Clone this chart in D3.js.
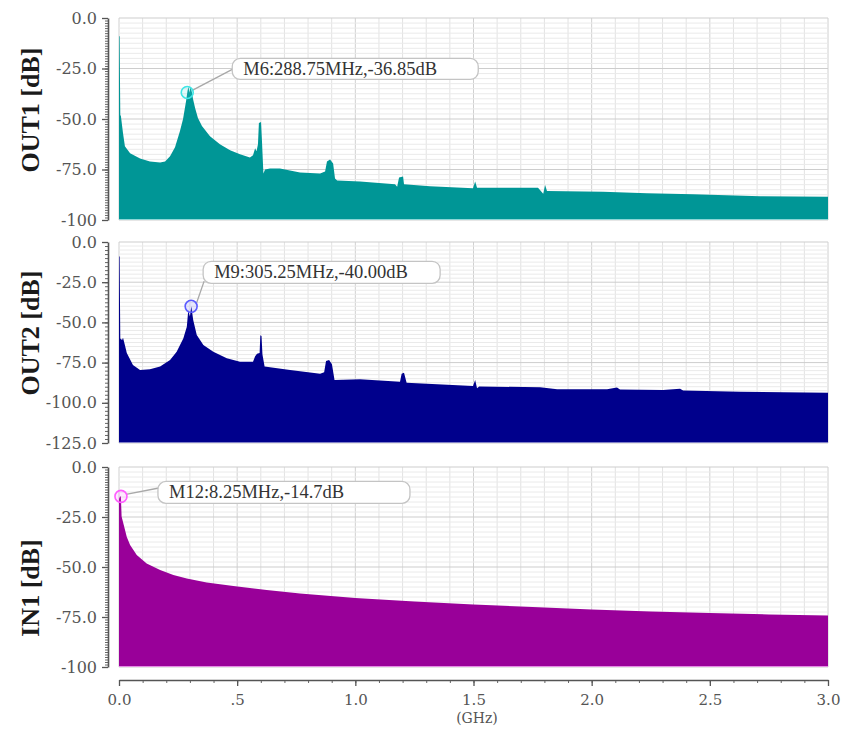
<!DOCTYPE html>
<html><head><meta charset="utf-8">
<script src="https://cdn.jsdelivr.net/npm/d3@7"></script>
<style>body{margin:0;background:#fff} svg{display:block}</style>
</head><body><svg id="c" width="862" height="733"></svg>
<script>
// ---------- data ----------
const xTickValues = [0, 0.5, 1, 1.5, 2, 2.5, 3];
const xTickLabels = ["0.0", ".5", "1.0", "1.5", "2.0", "2.5", "3.0"];
const xUnitLabel = "(GHz)";

const out1Ticks = [0, -25, -50, -75, -100];
const out1TickLabels = ["0.0", "-25.0", "-50.0", "-75.0", "-100"];
const out2Ticks = [0, -25, -50, -75, -100, -125];
const out2TickLabels = ["0.0", "-25.0", "-50.0", "-75.0", "-100.0", "-125.0"];
const in1Ticks = [0, -25, -50, -75, -100];
const in1TickLabels = ["0.0", "-25.0", "-50.0", "-75.0", "-100"];

const out1F = [0,0.0025,0.0055,0.008,0.017,0.025,0.047,0.089,0.131,0.174,0.195,0.216,0.237,0.258,0.271,0.284,0.290,0.294,0.298,0.303,0.309,0.313,0.322,0.334,0.351,0.385,0.427,0.470,0.512,0.554,0.567,0.576,0.582,0.588,0.592,0.601,0.605,0.611,0.618,0.639,0.681,0.766,0.851,0.872,0.880,0.893,0.906,0.914,0.923,1.020,1.168,1.177,1.185,1.202,1.206,1.316,1.498,1.507,1.515,1.612,1.773,1.795,1.803,1.811,2.048,2.234,2.429,2.713,3.000];
const out1dB = [-9,-9,-48,-48.5,-57,-63.5,-67,-69.5,-71,-71.5,-71,-68.5,-64,-56,-50,-41,-36,-34,-37,-34,-37,-40,-44.5,-49.5,-53.5,-58.5,-62.5,-65.5,-67.5,-69,-68,-64.5,-66,-62.5,-52,-51.5,-61,-77,-75,-74.5,-74.5,-76.5,-77,-76,-71,-70,-72,-79.5,-80.5,-81,-82.3,-83.5,-79,-78.5,-82.3,-83.3,-84.3,-81,-84,-84,-84,-87,-82.7,-85.7,-86,-86.8,-87.2,-88.2,-88.5];

const out2F = [0,0.0025,0.0055,0.013,0.017,0.023,0.033,0.059,0.089,0.131,0.174,0.216,0.244,0.272,0.287,0.293,0.300,0.306,0.314,0.329,0.357,0.399,0.456,0.512,0.567,0.576,0.584,0.595,0.598,0.603,0.607,0.616,0.724,0.851,0.868,0.876,0.889,0.901,0.912,1.020,1.189,1.196,1.206,1.217,1.498,1.507,1.515,1.524,1.782,1.854,2.065,2.107,2.120,2.302,2.374,2.387,2.628,3.000];
const out2dB = [-9,-9,-60,-61,-59.5,-63,-69,-76.5,-79.6,-79.2,-77.5,-73.4,-68.2,-60,-52.7,-42.5,-46.4,-40,-48.5,-57.8,-64,-68.2,-72.3,-74.4,-74.4,-71,-69.5,-69,-58,-58.5,-70,-77.5,-79.6,-82,-81,-74,-73.4,-76,-85.8,-85.4,-86.9,-82,-81.3,-87.5,-89.6,-85.8,-91,-89.8,-90.4,-91.6,-91.6,-90.5,-91.8,-92,-91.2,-92.3,-93.1,-93.7];

const in1F = [0,0.004,0.008,0.011,0.018,0.033,0.047,0.075,0.117,0.174,0.230,0.287,0.371,0.484,0.625,0.766,1.0,1.25,1.5,1.75,2.0,2.25,2.5,2.75,3.0];
const in1dB = [-16,-14.7,-14.7,-24.8,-28,-35,-39,-44,-48.2,-51.5,-54,-55.7,-57.7,-59.5,-61.5,-63.2,-65.5,-67.3,-68.8,-70,-71.2,-72.2,-73,-73.7,-74.3];

const markerNames = ["M6", "M9", "M12"];
const markerFreqMHz = [288.75, 305.25, 8.25];
const markerDb = [-36.85, -40.00, -14.7];
const markerLabels = ["M6:288.75MHz,-36.85dB", "M9:305.25MHz,-40.00dB", "M12:8.25MHz,-14.7dB"];

// ---------- layout / style ----------
const svg = d3.select("#c");
const x = d3.scaleLinear().domain([0, 3]).range([119, 828]);
const tickFont = "'DejaVu Serif', serif";
const labelFont = "'Liberation Serif', 'Times New Roman', serif";

const panels = [
  {title: "OUT1 [dB]", f: out1F, v: out1dB, min: -100, top: 18, bottom: 220, ticks: out1Ticks, labels: out1TickLabels,
   minorStep: 1.25, color: "#009696", edge: "#8cd6d6", titleY: 110, m: 0, mColor: "#3fe6e6",
   box: {dx: 45, dy: -34, w: 246, h: 21, anchor: 0.5}},
  {title: "OUT2 [dB]", f: out2F, v: out2dB, min: -125, top: 242, bottom: 443, ticks: out2Ticks, labels: out2TickLabels,
   minorStep: 2.5, color: "#00008c", edge: "#8080c8", titleY: 333, m: 1, mColor: "#5b5bff",
   box: {dx: 12, dy: -45, w: 237, h: 22, anchor: 0.9}},
  {title: "IN1 [dB]", f: in1F, v: in1dB, min: -100, top: 467, bottom: 667, ticks: in1Ticks, labels: in1TickLabels,
   minorStep: 1.25, color: "#990099", edge: "#e58ae5", titleY: 588, m: 2, mColor: "#ff5cff",
   box: {dx: 37, dy: -15, w: 252, h: 22, anchor: 0.3}}
];

panels.forEach((p, pi) => {
  const y = d3.scaleLinear().domain([p.min, 0]).range([p.bottom, p.top]);
  const g = svg.append("g");

  // grid
  const gx = d3.range(0, 30.001, 1).map(k => k / 10);
  g.append("g").selectAll("line").data(gx).enter().append("line")
    .attr("x1", d => x(d)).attr("x2", d => x(d))
    .attr("y1", y(0)).attr("y2", y(p.min))
    .attr("stroke", (d, i) => i % 5 === 0 ? "#d0d0d0" : "#e2e2e2").attr("stroke-width", 1);
  const gy = d3.range(0, -p.min / 2.5 + 0.001, 1).map(k => -k * 2.5);
  g.append("g").selectAll("line").data(gy).enter().append("line")
    .attr("x1", x(0)).attr("x2", x(3))
    .attr("y1", d => y(d)).attr("y2", d => y(d))
    .attr("stroke", (d, i) => i % 10 === 0 ? "#cdcdcd" : "#eaeaea").attr("stroke-width", 1);

  // spectrum fill
  const data = p.f.map((f, i) => [f, p.v[i]]);
  const area = d3.area().x(d => x(d[0])).y0(y(p.min)).y1(d => y(d[1]));
  g.append("path").datum(data).attr("d", area).attr("fill", p.color);
  g.append("line").attr("x1", x(0)).attr("x2", x(3)).attr("y1", y(p.min) - 0.5).attr("y2", y(p.min) - 0.5)
    .attr("stroke", p.edge).attr("stroke-width", 1.2);

  // y axis
  const minorAxis = d3.axisLeft(y).tickValues(d3.range(0, -p.min / p.minorStep + 0.001, 1).map(k => -k * p.minorStep))
    .tickSize(3).tickSizeOuter(0).tickFormat("");
  const ma = svg.append("g").attr("transform", "translate(108,0)").call(minorAxis);
  ma.select(".domain").remove();
  ma.selectAll("line").attr("stroke", "#666");
  const majorAxis = d3.axisLeft(y).tickValues(p.ticks).tickSize(6).tickSizeOuter(0).tickPadding(5)
    .tickFormat(d => p.labels[p.ticks.indexOf(d)]);
  const ya = svg.append("g").attr("transform", "translate(108,0)").call(majorAxis);
  ya.select(".domain").attr("stroke", "#555").attr("stroke-width", 1.6);
  ya.selectAll("line").attr("stroke", "#555").attr("stroke-width", 1.3);
  ya.selectAll("text").attr("font-family", tickFont).attr("font-size", 16).attr("fill", "#555");

  // y title
  svg.append("text").attr("transform", `translate(30,${p.titleY}) rotate(-90)`)
    .attr("text-anchor", "middle").attr("dominant-baseline", "central")
    .attr("font-family", labelFont).attr("font-weight", "bold").attr("font-size", 26)
    .attr("fill", "#1a1a1a").text(p.title);

  // marker
  const mi = p.m;
  const mx = x(markerFreqMHz[mi] / 1000), my = y(markerDb[mi]);
  const bx = mx + p.box.dx, by = my + p.box.dy;
  g.append("line").attr("x1", mx + 5).attr("y1", my - 2)
    .attr("x2", bx + 1).attr("y2", by + p.box.h * p.box.anchor)
    .attr("stroke", "#a8a8a8").attr("stroke-width", 1.3);
  g.append("circle").attr("cx", mx).attr("cy", my).attr("r", 6)
    .attr("fill", p.mColor).attr("fill-opacity", 0.15)
    .attr("stroke", p.mColor).attr("stroke-width", 1.6);
  g.append("rect").attr("x", bx).attr("y", by).attr("width", p.box.w).attr("height", p.box.h)
    .attr("rx", 8).attr("ry", 8).attr("fill", "#fff").attr("stroke", "#c4c4c4").attr("stroke-width", 1.3);
  g.append("text").attr("x", bx + 11).attr("y", by + p.box.h / 2).attr("dominant-baseline", "central")
    .attr("font-family", labelFont).attr("font-size", 18.5).attr("fill", "#333")
    .text(markerLabels[mi]);
});

// x axis
const xMinor = d3.axisBottom(x).tickValues(d3.range(0, 30.001, 1).map(k => k / 10)).tickSize(3).tickSizeOuter(0).tickFormat("");
const xm = svg.append("g").attr("transform", "translate(0,680)").call(xMinor);
xm.select(".domain").remove();
xm.selectAll("line").attr("stroke", "#666");
const xMajor = d3.axisBottom(x).tickValues(xTickValues).tickSize(6).tickSizeOuter(0).tickPadding(8)
  .tickFormat(d => xTickLabels[xTickValues.indexOf(d)]);
const xa = svg.append("g").attr("transform", "translate(0,680)").call(xMajor);
xa.select(".domain").attr("stroke", "#555").attr("stroke-width", 1.6);
xa.selectAll("line").attr("stroke", "#555").attr("stroke-width", 1.3);
xa.selectAll("text").attr("font-family", tickFont).attr("font-size", 15).attr("fill", "#555");
svg.append("text").attr("x", 477).attr("y", 723).attr("text-anchor", "middle")
  .attr("font-family", tickFont).attr("font-size", 14).attr("fill", "#555").text(xUnitLabel);
</script></body></html>
